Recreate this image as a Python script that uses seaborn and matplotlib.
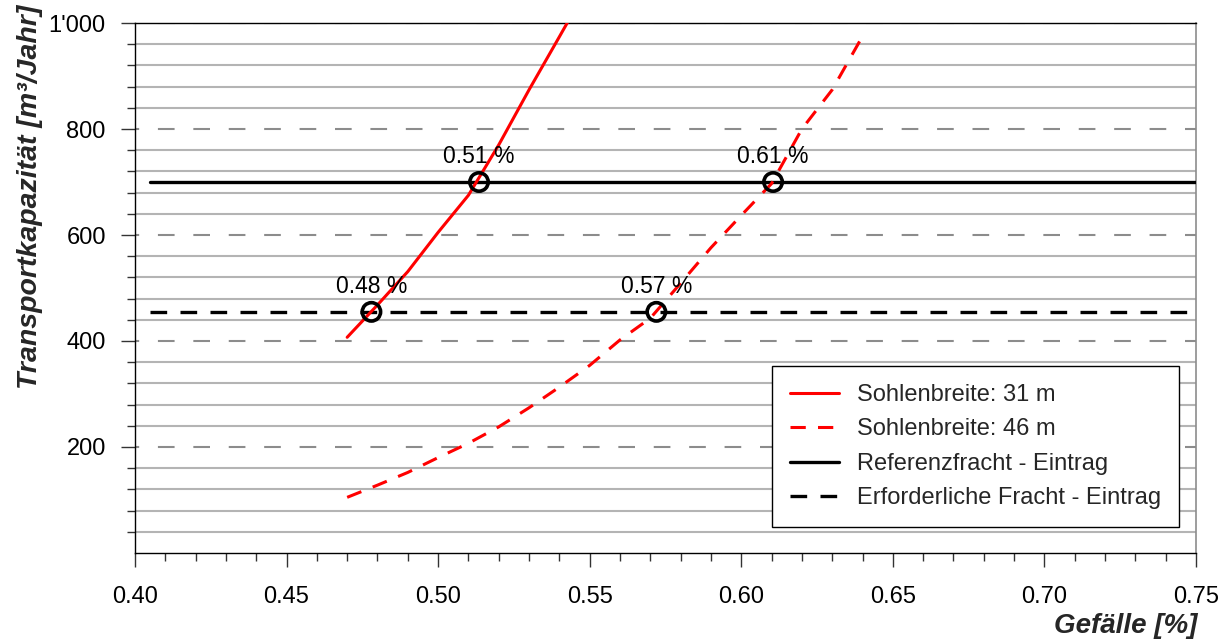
import matplotlib.pyplot as plt
import matplotlib.ticker as mticker
import pandas as pd
import seaborn as sns

# Gefaelle [%] vs. Transportkapazitaet [m3/Jahr]
slope_31 = [0.47, 0.48, 0.49, 0.50, 0.51, 0.52, 0.53, 0.54, 0.55]
cap_31 = [407, 468, 531, 605, 675, 770, 874, 974, 1075]

slope_46 = [0.47, 0.48, 0.49, 0.50, 0.51, 0.52, 0.53, 0.54, 0.55,
            0.56, 0.57, 0.58, 0.59, 0.60, 0.61, 0.62, 0.63, 0.64]
cap_46 = [105, 128, 152, 180, 207, 238, 274, 313, 354,
          402, 443, 509, 576, 637, 697, 800, 874, 975]

# reference loads (horizontal lines)
load_x = [0.405, 0.75]
ref_load = 700
req_load = 455

# intersections
cross_x = [0.478, 0.5135, 0.572, 0.6105]
cross_y = [455, 700, 455, 700]
cross_labels = ["0.48 %", "0.51 %", "0.57 %", "0.61 %"]

legend_labels = ["Sohlenbreite: 31 m", "Sohlenbreite: 46 m",
                 "Referenzfracht - Eintrag", "Erforderliche Fracht - Eintrag"]

sns.set_theme(style="white")
plt.rcParams["font.family"] = ["Liberation Sans", "DejaVu Sans"]

fig = plt.figure(figsize=(12.27, 6.41), dpi=100)
ax = fig.add_axes([0.110, 0.1373, 0.8647, 0.8268])

df31 = pd.DataFrame({"x": slope_31, "y": cap_31})
df46 = pd.DataFrame({"x": slope_46, "y": cap_46})

dash = (5, 4)
sns.lineplot(data=df31, x="x", y="y", ax=ax, color="#ff0000", lw=2.2,
             label=legend_labels[0], zorder=4)
sns.lineplot(data=df46, x="x", y="y", ax=ax, color="#ff0000", lw=2.2,
             label=legend_labels[1], zorder=4)
ax.lines[-1].set_dashes(dash)
sns.lineplot(x=load_x, y=[ref_load] * 2, ax=ax, color="black", lw=2.4,
             label=legend_labels[2], zorder=3)
sns.lineplot(x=load_x, y=[req_load] * 2, ax=ax, color="black", lw=2.4,
             label=legend_labels[3], zorder=3)
ax.lines[-1].set_dashes(dash)

sns.scatterplot(x=cross_x, y=cross_y, ax=ax, marker="o", s=175,
                facecolor="none", edgecolor="black", linewidth=2.6, zorder=5)
for cx, cy, lab in zip(cross_x, cross_y, cross_labels):
    ax.annotate(lab, (cx, cy), xytext=(0, 10), textcoords="offset points",
                ha="center", va="bottom", fontsize=16.5, color="black", zorder=6)

ax.set_xlim(0.40, 0.75)
ax.set_ylim(0, 1000)

ax.xaxis.set_major_locator(mticker.MultipleLocator(0.05))
ax.xaxis.set_minor_locator(mticker.MultipleLocator(0.01))
ax.xaxis.set_major_formatter(mticker.FormatStrFormatter("%.2f"))
ax.yaxis.set_major_locator(mticker.FixedLocator([200, 400, 600, 800, 1000]))
ax.yaxis.set_minor_locator(mticker.FixedLocator(
    [v for v in range(40, 1000, 40) if v % 200 != 0]))
ax.yaxis.set_major_formatter(mticker.FuncFormatter(
    lambda v, p: f"{int(v):,}".replace(",", "'")))

ax.grid(False)
ax.grid(axis="y", which="major", color="#8c8c8c", lw=1.5, linestyle=(6, (8, 9)))
ax.grid(axis="y", which="minor", color="#b4b4b4", lw=1.5, linestyle="-")

ax.tick_params(axis="both", which="major", direction="out", length=10,
               width=1, color="#333333", labelsize=17, labelcolor="black")
ax.tick_params(axis="both", which="minor", direction="out", length=6,
               width=1, color="#333333")
ax.tick_params(axis="x", which="major", pad=14)
ax.tick_params(axis="y", which="major", pad=11)
ax.tick_params(bottom=True, left=True, which="both")

for side in ["left", "bottom", "top"]:
    ax.spines[side].set_color("black")
    ax.spines[side].set_linewidth(1.0)
ax.spines["right"].set_color("#8c8c8c")
ax.spines["right"].set_linewidth(1.2)

ax.set_xlabel("")
ax.set_ylabel("")
fig.text(30 / 1227, 1 - 5 / 641, "Transportkapazität [m³/Jahr]", rotation=90,
         ha="center", va="top", fontsize=20.5, fontweight="bold", fontstyle="italic")
fig.text(1197 / 1227, 1 - 626 / 641, "Gefälle [%]", ha="right", va="center",
         fontsize=20, fontweight="bold", fontstyle="italic")

leg = ax.legend(loc="lower right", bbox_to_anchor=(0.984, 0.049), fontsize=17,
                frameon=True, fancybox=False, edgecolor="black", framealpha=1,
                handlelength=2.1, labelspacing=0.53, borderpad=0.75,
                handletextpad=0.75, borderaxespad=0)
leg.get_frame().set_linewidth(1.0)

fig.savefig("out.png", dpi=100)
